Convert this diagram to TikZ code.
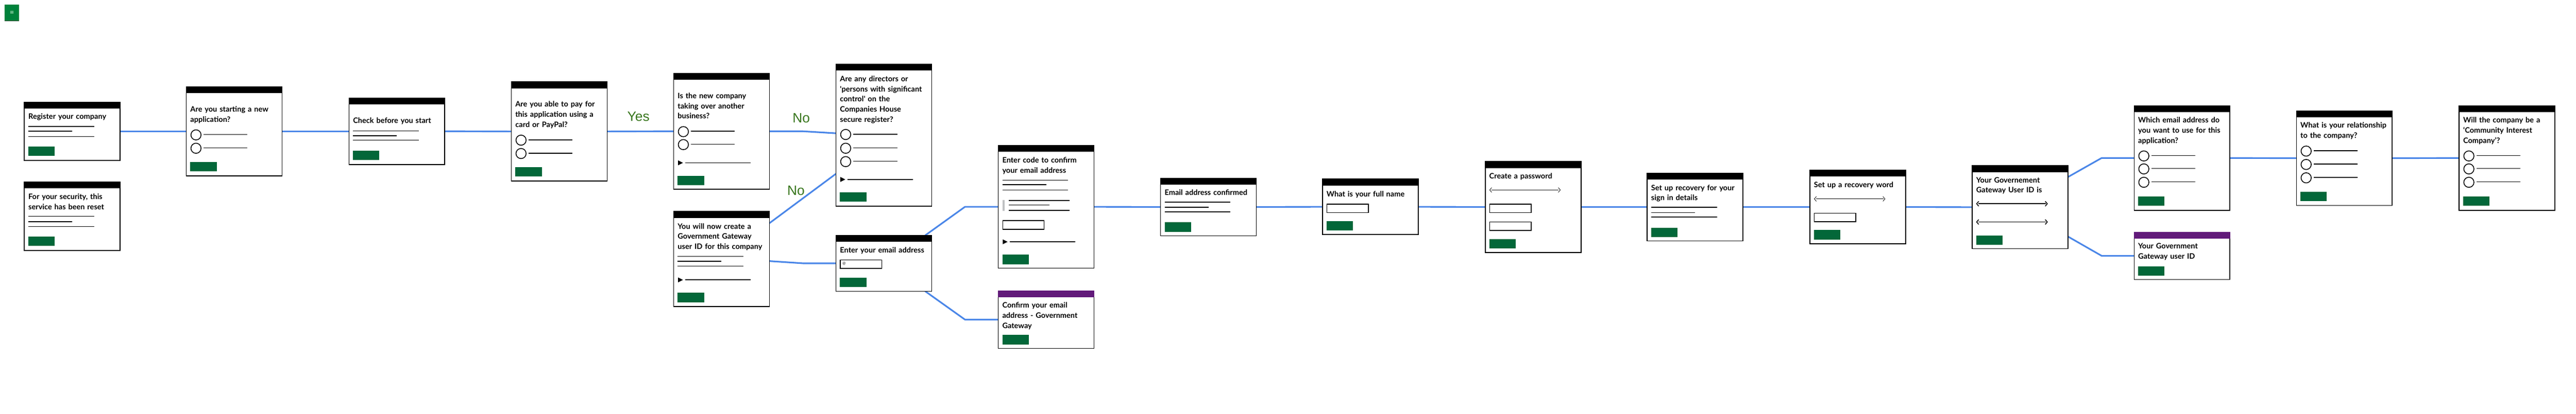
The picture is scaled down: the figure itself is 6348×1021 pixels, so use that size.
\documentclass[tikz,border=0pt]{standalone}
\usepackage{fontspec}
\setmainfont{Lato}
\newfontfamily\labelfont{Liberation Sans}
\newfontfamily\symfont{DejaVu Sans}
\pgfdeclarelayer{background}
\pgfsetlayers{background,main}
\definecolor{conncol}{HTML}{4A86E8}
\definecolor{btncol}{RGB}{3,103,57}
\definecolor{purplecol}{RGB}{98,26,122}
\definecolor{labelcol}{HTML}{38761D}
\definecolor{menucol}{RGB}{0,130,59}
\definecolor{menushadow}{RGB}{0,54,24}
\definecolor{menuicon}{RGB}{200,240,210}
\definecolor{insetgrey}{RGB}{191,193,195}
\tikzset{
 frame/.style={draw=black, line width=2pt, fill=white, inner sep=0pt, outer sep=0pt},
 head/.style={anchor=base west, inner sep=0pt, outer sep=0pt, text width=236pt, align=left,
   font=\bfseries\fontsize{18.5}{25}\selectfont},
 ph/.style={line width=2pt, line cap=butt},
 conn/.style={draw=conncol, line width=4pt, line join=round},
 lbl/.style={anchor=base west, inner sep=0pt, outer sep=0pt, font=\labelfont\fontsize{33.5}{40}\selectfont, text=labelcol},
 btnbox/.style={fill=btncol},
 inbox/.style={draw=black, line width=2pt},
}
% screen frame: name, left, top, bottom, header colour
\newcommand\myscr[5]{%
 \node[frame, anchor=north west, minimum width=236pt, minimum height={#4-#3-2}] (#1) at (#2+1,#3+1) {};
 \fill[#5] (#2,#3) rectangle (#2+238,#3+17);}
\newcommand\myplines[4]{%
 \draw[ph] (#1+11,#2) -- (#1+173,#2);
 \draw[ph] (#1+11,#3) -- (#1+119,#3);
 \draw[ph] (#1+11,#4) -- (#1+173,#4);}
\newcommand\myradio[2]{%
 \draw[ph] (#1+25,#2) circle[radius=12.5pt];
 \draw[ph] (#1+44,#2-1) -- (#1+152,#2-1);}
\newcommand\mydiscl[2]{%
 \fill (#1+12,#2-6) -- (#1+12,#2+6) -- (#1+24,#2) -- cycle;
 \draw[ph] (#1+29,#2) -- (#1+191,#2);}
\newcommand\mybtn[2]{\fill[btnbox] (#1+11,#2) rectangle (#1+76,#2+23);}
\newcommand\myinp[2]{\draw[inbox] (#1+12,#2+1) rectangle (#1+114,#2+22);}
\newcommand\mychev[3]{%
 \draw[line width=#3] (#1+17,#2-6) -- (#1+12,#2) -- (#1+17,#2+6);
 \draw[line width=#3] (#1+16,#2) -- (#1+182,#2);
 \draw[line width=#3] (#1+181,#2-6) -- (#1+186,#2) -- (#1+181,#2+6);}
\begin{document}
\begin{tikzpicture}[x=1pt,y=-1pt]
\useasboundingbox (0,0) rectangle (6348,1021);
% menu button
\fill[menushadow] (11,11) rectangle (47,52);
\node[fill=menucol, inner sep=0pt, minimum width=36pt, minimum height=39pt, anchor=north west] (menu) at (11,11) {};
\node[text=menuicon, inner sep=0pt, font=\symfont\fontsize{13}{13}\selectfont] (menuic) at (29.5,31) {≡};

% column 0
\myscr{s0a}{59}{251}{397}{black}
\node[head] (t0a) at (70,294) {Register your company};
\myplines{59}{312}{324}{337}
\mybtn{59}{362}
\myscr{s0b}{59}{448}{619}{black}
\node[head] (t0b) at (70,492) {For your security, this\\service has been reset};
\myplines{59}{534}{547}{559}
\mybtn{59}{584}
% column 1
\myscr{s1}{458}{213}{435}{black}
\node[head] (t1) at (469,276) {Are you starting a new\\application?};
\myradio{458}{333}\myradio{458}{366}
\mybtn{458}{400}
% column 2
\myscr{s2}{859}{241}{407}{black}
\node[head] (t2) at (870,304) {Check before you start};
\myplines{859}{323}{335}{346}
\mybtn{859}{372}
% column 3
\myscr{s3}{1259}{201}{448}{black}
\node[head] (t3) at (1270,264) {Are you able to pay for\\this application using a\\card or PayPal?};
\myradio{1259}{346}\myradio{1259}{379}
\mybtn{1259}{413}
% column 4
\myscr{s4a}{1659}{180}{468}{black}
\node[head] (t4a) at (1670,243) {Is the new company\\taking over another\\business?};
\myradio{1659}{325}\myradio{1659}{357}
\mydiscl{1659}{402}
\mybtn{1659}{434}
\myscr{s4b}{1659}{521}{758}{black}
\node[head] (t4b) at (1670,565) {You will now create a\\Government Gateway\\user ID for this company};
\myplines{1659}{633}{645}{657}
\mydiscl{1659}{691}
\mybtn{1659}{723}
% column 5
\myscr{s5a}{2059}{157}{510}{black}
\node[head] (t5a) at (2070,201) {Are any directors or\\\textquotesingle{}persons with significant\\control\textquotesingle{} on the\\Companies House\\secure register?};
\myradio{2059}{332}\myradio{2059}{366}\myradio{2059}{399}
\mydiscl{2059}{443}
\mybtn{2059}{475}
\myscr{s5b}{2059}{580}{720}{black}
\node[head] (t5b) at (2070,624) {Enter your email address};
\myinp{2059}{641}
\node[inner sep=0pt, font=\fontsize{9}{9}\selectfont] (at5b) at (2080,651) {@};
\mybtn{2059}{685}
% column 6
\myscr{s6a}{2459}{358}{663}{black}
\node[head] (t6a) at (2470,402) {Enter code to confirm\\your email address};
\myplines{2459}{445}{456}{469}
\fill[insetgrey] (2470,494) rectangle (2476,520);
\draw[ph] (2486,495) -- (2636,495);
\draw[ph] (2486,506) -- (2586,506);
\draw[ph] (2486,519) -- (2636,519);
\myinp{2459}{544}
\mydiscl{2459}{597}
\mybtn{2459}{629}
\myscr{s6b}{2459}{717}{861}{purplecol}
\node[head] (t6b) at (2470,760) {Confirm your email\\address - Government\\Gateway};
\mybtn{2459}{827}
% column 7
\myscr{s7}{2859}{439}{583}{black}
\node[head] (t7) at (2870,482) {Email address confirmed};
\myplines{2859}{499}{512}{523}
\mybtn{2859}{549}
% column 8
\myscr{s8}{3258}{441}{580}{black}
\node[head] (t8) at (3269,485) {What is your full name};
\myinp{3258}{503}
\mybtn{3258}{546}
% column 9
\myscr{s9}{3659}{398}{624}{black}
\node[head] (t9) at (3670,441) {Create a password};
\mychev{3659}{469}{1pt}
\myinp{3659}{503}
\myinp{3659}{547}
\mybtn{3659}{590}
% column 10
\myscr{s10}{4058}{426}{596}{black}
\node[head] (t10) at (4069,470) {Set up recovery for your\\sign in details};
\myplines{4058}{512}{525}{536}
\mybtn{4058}{562}
% column 11
\myscr{s11}{4459}{419}{603}{black}
\node[head] (t11) at (4470,463) {Set up a recovery word};
\mychev{4459}{491}{1pt}
\myinp{4459}{525}
\mybtn{4459}{568}
% column 12
\myscr{s12}{4859}{408}{615}{black}
\node[head] (t12) at (4870,451) {Your Governement\\Gateway User ID is};
\mychev{4859}{503}{2pt}
\mychev{4859}{548}{2pt}
\mybtn{4859}{581}
% column 13
\myscr{s13a}{5258}{260}{520}{black}
\node[head] (t13a) at (5269,303) {Which email address do\\you want to use for this\\application?};
\myradio{5258}{385}\myradio{5258}{417}\myradio{5258}{450}
\mybtn{5258}{485}
\myscr{s13b}{5258}{572}{691}{purplecol}
\node[head] (t13b) at (5269,614) {Your Government\\Gateway user ID};
\mybtn{5258}{658}
% column 14
\myscr{s14}{5658}{273}{508}{black}
\node[head] (t14) at (5669,316) {What is your relationship\\to the company?};
\myradio{5658}{373}\myradio{5658}{406}\myradio{5658}{439}
\mybtn{5658}{473}
% column 15
\myscr{s15}{6059}{260}{520}{black}
\node[head] (t15) at (6070,303) {Will the company be a\\‘Community Interest\\Company’?};
\myradio{6059}{385}\myradio{6059}{417}\myradio{6059}{450}
\mybtn{6059}{485}

% branch labels
\node[lbl] (yes) at (1546,299) {Yes};
\node[lbl] (no1) at (1953,303) {No};
\node[lbl] (no2) at (1940,482) {No};

% connectors
\begin{pgfonlayer}{background}
\draw[conn] (s0a.east) -- (s1.west);
\draw[conn] (s1.east) -- (s2.west);
\draw[conn] (s2.east) -- (s3.west);
\draw[conn] (s3.east) -- (s4a.west);
\draw[conn] (s4a.east) -- ([xshift=81pt]s4a.east) -- ([yshift=-171pt]s5a.north west);
\draw[conn] ([yshift=-29pt]s4b.north east) -- ([yshift=-271pt]s5a.north west);
\draw[conn] ([yshift=-5pt]s4b.east) -- ([xshift=-81pt]s5b.west) -- (s5b.west);
\draw[conn] ([xshift=220pt]s5b.north west) -- ([xshift=-82pt]s6a.west) -- (s6a.west);
\draw[conn] ([xshift=220pt]s5b.south west) -- ([xshift=-82pt]s6b.west) -- (s6b.west);
\draw[conn] (s6a.east) -- (s7.west);
\draw[conn] (s7.east) -- (s8.west);
\draw[conn] (s8.east) -- (s9.west);
\draw[conn] (s9.east) -- (s10.west);
\draw[conn] (s10.east) -- (s11.west);
\draw[conn] (s11.east) -- (s12.west);
\draw[conn] ([yshift=-28pt]s12.north east) -- ([xshift=-80pt]s13a.west) -- (s13a.west);
\draw[conn] ([yshift=30pt]s12.south east) -- ([xshift=-80pt]s13b.west) -- (s13b.west);
\draw[conn] (s13a.east) -- (s14.west);
\draw[conn] (s14.east) -- (s15.west);
\end{pgfonlayer}
\end{tikzpicture}
\end{document}
